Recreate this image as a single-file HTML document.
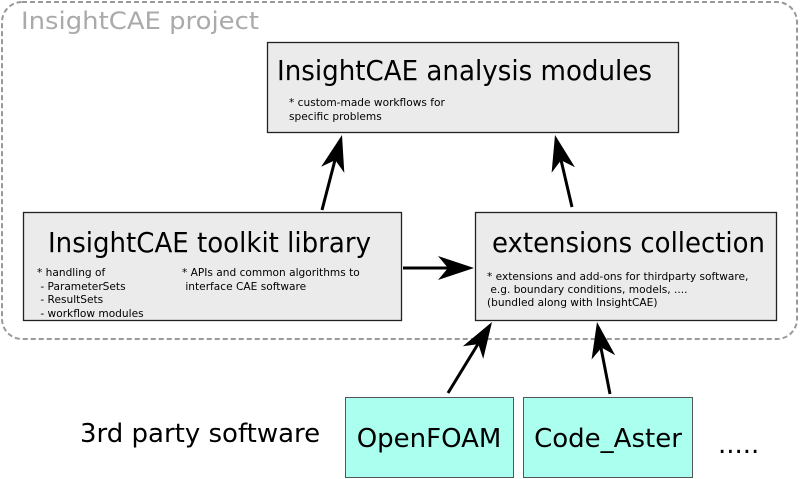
<!DOCTYPE html>
<html><head><meta charset="utf-8"><style>
html,body{margin:0;padding:0;background:#fff;}
svg{display:block;font-family:"DejaVu Sans","Liberation Sans",sans-serif;}
</style></head><body>
<svg width="800" height="479" viewBox="0 0 800 479" xmlns="http://www.w3.org/2000/svg">
<defs>
<path id="ah" d="M0,0 L-36,-12 L-26,0 L-36,12 Z" fill="#000"/>
</defs>
<rect x="2" y="2" width="795" height="337" rx="20" ry="20" fill="none" stroke="#999" stroke-width="2" stroke-dasharray="5,3"/>
<text x="21" y="29" font-size="24" fill="#aaa" textLength="238" lengthAdjust="spacingAndGlyphs">InsightCAE project</text>

<rect x="267.5" y="42.5" width="411" height="90" fill="#ebebeb" stroke="#222" stroke-width="1.3"/>
<text x="277" y="80" font-size="28" textLength="375" lengthAdjust="spacingAndGlyphs">InsightCAE analysis modules</text>
<text x="289" y="106" font-size="10.6">* custom-made workflows for</text>
<text x="289" y="120" font-size="10.6">specific problems</text>

<rect x="23.5" y="212.5" width="378" height="108" fill="#ebebeb" stroke="#222" stroke-width="1.3"/>
<text x="48" y="252" font-size="28" textLength="323" lengthAdjust="spacingAndGlyphs">InsightCAE toolkit library</text>
<text x="37" y="276" font-size="10.6">* handling of</text>
<text x="37" y="290" font-size="10.6" xml:space="preserve"> - ParameterSets</text>
<text x="37" y="303" font-size="10.6" xml:space="preserve"> - ResultSets</text>
<text x="37" y="317" font-size="10.6" xml:space="preserve"> - workflow modules</text>
<text x="182" y="276" font-size="10.6">* APIs and common algorithms to</text>
<text x="182" y="290" font-size="10.6" xml:space="preserve"> interface CAE software</text>

<rect x="475.5" y="212.5" width="301" height="108" fill="#ebebeb" stroke="#222" stroke-width="1.3"/>
<text x="492" y="252" font-size="28" textLength="273" lengthAdjust="spacingAndGlyphs">extensions collection</text>
<text x="487" y="280" font-size="10.6">* extensions and add-ons for thirdparty software,</text>
<text x="487" y="293" font-size="10.6" xml:space="preserve"> e.g. boundary conditions, models, ....</text>
<text x="487" y="306" font-size="10.6">(bundled along with InsightCAE)</text>

<rect x="345.5" y="397.5" width="168" height="80" fill="#aaffee" stroke="#555" stroke-width="1"/>
<text x="429" y="447" font-size="26" text-anchor="middle">OpenFOAM</text>
<rect x="523.5" y="397.5" width="169" height="80" fill="#aaffee" stroke="#555" stroke-width="1"/>
<text x="608" y="447" font-size="26" text-anchor="middle">Code_Aster</text>
<text x="80" y="442" font-size="26">3rd party software</text>
<text x="718" y="453" font-size="26">.....</text>

<g stroke="#000" stroke-width="3" fill="none">
<line x1="322" y1="210" x2="335" y2="160"/>
<line x1="572" y1="207" x2="561" y2="160"/>
<line x1="403" y1="268" x2="450" y2="268"/>
<line x1="448" y1="393" x2="478" y2="344"/>
<line x1="610" y1="394" x2="601" y2="348"/>
</g>
<use href="#ah" transform="translate(342,135) rotate(-75.07)"/>
<use href="#ah" transform="translate(555,135) rotate(-103.3)"/>
<use href="#ah" transform="translate(474,268)"/>
<use href="#ah" transform="translate(492,322) rotate(-58.2)"/>
<use href="#ah" transform="translate(597,322) rotate(-100.2)"/>
</svg>
</body></html>
